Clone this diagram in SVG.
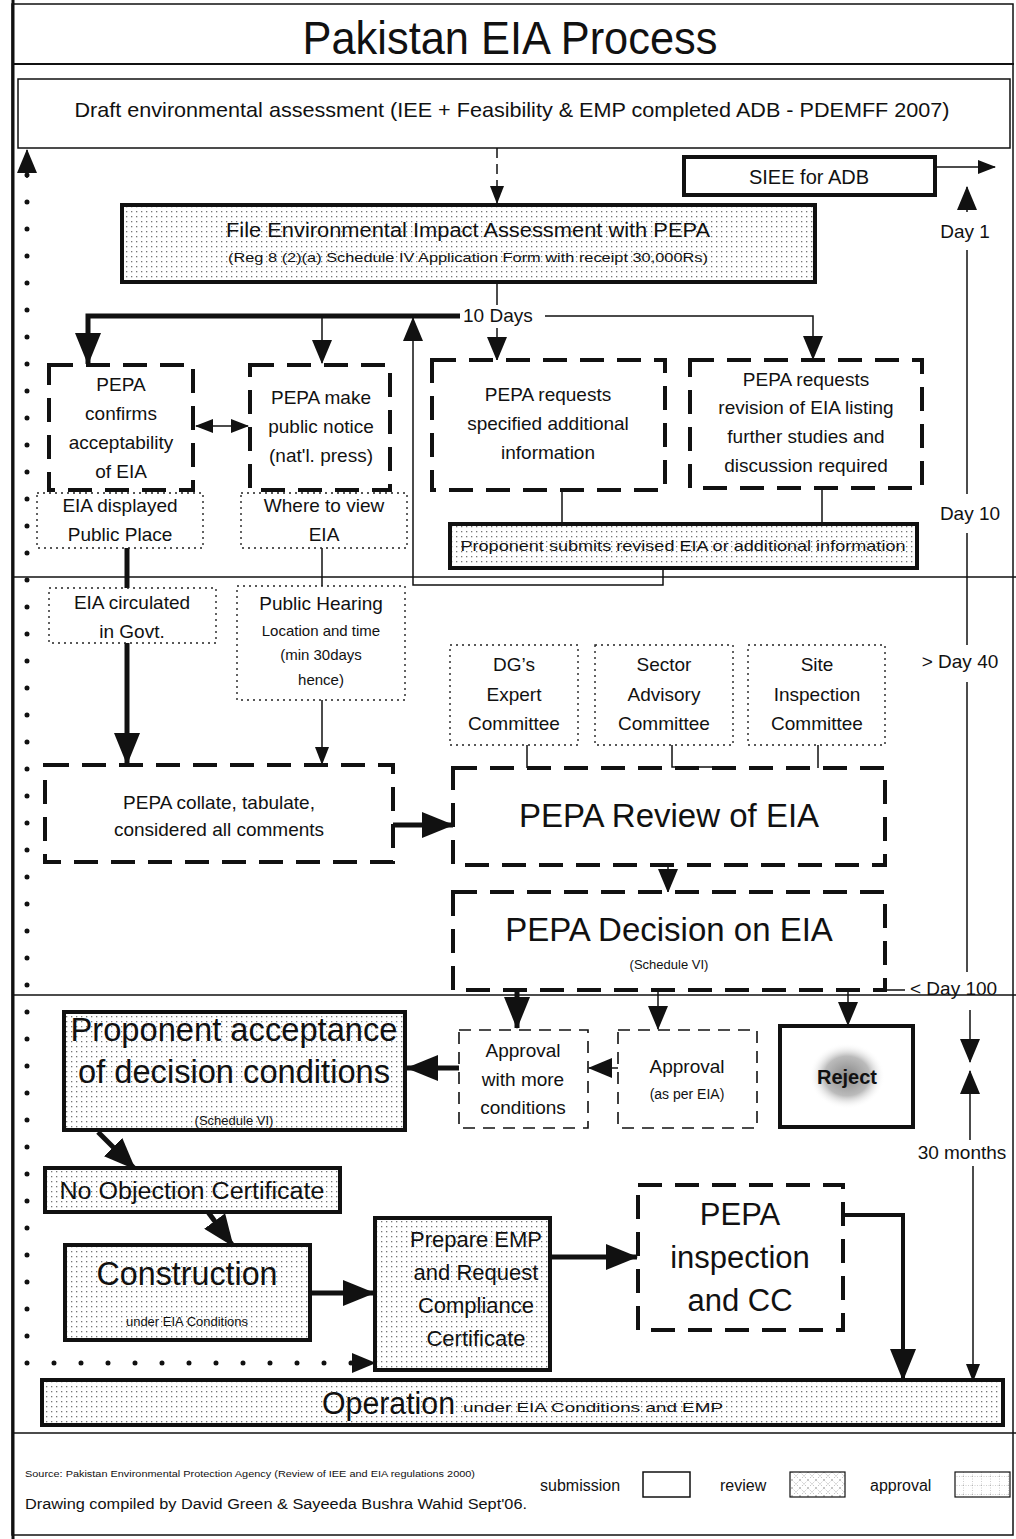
<svg xmlns="http://www.w3.org/2000/svg" width="1016" height="1539" viewBox="0 0 1016 1539">
<style>
text{font-family:"Liberation Sans",Arial,sans-serif;fill:#111}
.c{text-anchor:middle}
.frame{fill:none;stroke:#111;stroke-width:1.5}
.solid{fill:#fff;stroke:#111;stroke-width:1.5}
.thickS{fill:url(#stip);stroke:#111;stroke-width:4}
.thickW{fill:#fff;stroke:#111;stroke-width:4}
.dashT{fill:#fff;stroke:#111;stroke-width:4;stroke-dasharray:24 13}
.dashN{fill:#fff;stroke:#111;stroke-width:1.6;stroke-dasharray:12 8}
.dot{fill:#fff;stroke:#222;stroke-width:1.4;stroke-dasharray:2 4}
.ln{fill:none;stroke:#111;stroke-width:1.5}
.lnT{fill:none;stroke:#111;stroke-width:5}
.lnM{fill:none;stroke:#111;stroke-width:4}
.dsh{fill:none;stroke:#111;stroke-width:1.5;stroke-dasharray:10 6}
.dots{fill:none;stroke:#111;stroke-width:5;stroke-linecap:round;stroke-dasharray:0 27}
</style>
<defs>
<pattern id="stip" width="5" height="5" patternUnits="userSpaceOnUse">
<rect width="5" height="5" fill="#fff"/>
<rect x="1" y="1" width="1.3" height="1.3" fill="#777"/>
</pattern>
<pattern id="hatch" width="8" height="8" patternUnits="userSpaceOnUse">
<rect width="8" height="8" fill="#fff"/>
<path d="M0,0 L8,8 M8,0 L0,8" stroke="#999" stroke-width="0.8" stroke-dasharray="1 1.5"/>
</pattern>
<pattern id="grid" width="9" height="9" patternUnits="userSpaceOnUse">
<rect width="9" height="9" fill="#fff"/>
<path d="M0,0 H9 M0,0 V9" stroke="#888" stroke-width="0.8" stroke-dasharray="1 1.5"/>
</pattern>
<radialGradient id="rej" cx="0.5" cy="0.5" r="0.5">
<stop offset="0" stop-color="#888"/>
<stop offset="0.6" stop-color="#bbb"/>
<stop offset="1" stop-color="#fff" stop-opacity="0"/>
</radialGradient>
<marker id="aS" markerUnits="userSpaceOnUse" markerWidth="18" markerHeight="14" refX="17" refY="7" orient="auto-start-reverse">
<path d="M0,0 L18,7 L0,14 z" fill="#111"/>
</marker>
<marker id="aM" markerUnits="userSpaceOnUse" markerWidth="24" markerHeight="20" refX="23" refY="10" orient="auto-start-reverse">
<path d="M0,0 L24,10 L0,20 z" fill="#111"/>
</marker>
<marker id="aL" markerUnits="userSpaceOnUse" markerWidth="32" markerHeight="26" refX="31" refY="13" orient="auto-start-reverse">
<path d="M0,0 L32,13 L0,26 z" fill="#111"/>
</marker>
</defs>
<rect width="1016" height="1539" fill="#fff"/>

<g id="frame">
<rect x="12" y="4" width="1001" height="1531" class="frame"/>
<line x1="13" y1="0" x2="13" y2="1539" stroke="#111" stroke-width="3"/>
<line x1="12" y1="64" x2="1014" y2="64" stroke="#111" stroke-width="2"/>
<line x1="12" y1="577" x2="1016" y2="577" stroke="#111" stroke-width="1.5"/>
<line x1="12" y1="995" x2="1016" y2="995" stroke="#111" stroke-width="1.5"/>
<line x1="12" y1="1433" x2="1016" y2="1433" stroke="#111" stroke-width="1.5"/>
<text x="510" y="54" class="c" font-size="46" textLength="415" lengthAdjust="spacingAndGlyphs">Pakistan EIA Process</text>
</g>

<g id="connectors">
<path d="M497,148 V203" class="dsh" marker-end="url(#aS)"/>
<path d="M935,167 H995" class="ln" marker-end="url(#aS)"/>
<path d="M497,282 V305" class="ln"/>
<path d="M460,316 H88 V364" class="lnT" marker-end="url(#aL)"/>
<path d="M322,316 V363" class="ln" marker-end="url(#aM)"/>
<path d="M497,328 V360" class="ln" marker-end="url(#aM)"/>
<path d="M545,316 H813 V359" class="ln" marker-end="url(#aM)"/>
<path d="M196,426 H248" class="ln" marker-start="url(#aS)" marker-end="url(#aS)"/>
<path d="M562,490 V524" class="ln"/>
<path d="M822,488 V524" class="ln"/>
<path d="M663,568 V585 H413 V318" class="ln" marker-end="url(#aM)"/>
<path d="M127,548 V588" class="lnT"/>
<path d="M322,548 V586" class="ln"/>
<path d="M127,643 V764" class="lnT" marker-end="url(#aL)"/>
<path d="M322,700 V764" class="ln" marker-end="url(#aS)"/>
<path d="M393,825 H453" class="lnT" marker-end="url(#aL)"/>
<path d="M527,745 V768" class="ln"/>
<path d="M672,745 V767 H712" class="ln"/>
<path d="M818,745 V768" class="ln"/>
<path d="M668,865 V892" class="ln" marker-end="url(#aM)"/>
<path d="M885,990 H905" class="ln"/>
<path d="M517,990 V1028" class="lnT" marker-end="url(#aL)"/>
<path d="M658,990 V1029" class="ln" marker-end="url(#aM)"/>
<path d="M848,990 V1025" class="ln" marker-end="url(#aM)"/>
<path d="M618,1068 H589" class="ln" marker-end="url(#aM)"/>
<path d="M459,1068 H407" class="lnT" marker-end="url(#aL)"/>
<path d="M98,1132 L135,1169" class="lnT" marker-end="url(#aL)"/>
<path d="M208,1212 L233,1246" class="lnT" marker-end="url(#aL)"/>
<path d="M310,1293 H374" class="lnT" marker-end="url(#aL)"/>
<path d="M550,1257 H637" class="lnT" marker-end="url(#aL)"/>
<path d="M843,1215 H903 V1380" class="lnM" marker-end="url(#aL)"/>
<path d="M27,175 V1363 H356" class="dots"/>
<path d="M27,178 V150" class="ln" stroke-width="0" marker-end="url(#aM)"/>
<path d="M350,1363 H375" class="ln" stroke-width="0" marker-end="url(#aM)"/>
<path d="M967,212 V187" class="ln" marker-end="url(#aM)"/>
<path d="M967,250 V494" class="ln"/>
<path d="M967,533 V645" class="ln"/>
<path d="M967,682 V972" class="ln"/>
<path d="M970,1010 V1062" class="ln" marker-end="url(#aM)"/>
<path d="M970,1110 V1071" class="ln" marker-end="url(#aM)"/>
<path d="M970,1110 V1140" class="ln"/>
<path d="M973,1166 V1381" class="ln" marker-end="url(#aS)"/>
</g>

<g id="timeline-labels">
<text x="965" y="238" class="c" font-size="19">Day 1</text>
<text x="970" y="520" class="c" font-size="19">Day 10</text>
<text x="960" y="668" class="c" font-size="19">&gt; Day 40</text>
<text x="910" y="995" font-size="19">&lt; Day 100</text>
<text x="962" y="1159" class="c" font-size="19">30 months</text>
</g>

<g id="draft">
<rect x="18" y="79" width="992" height="69" class="solid"/>
<text x="512" y="117" class="c" font-size="21" textLength="875" lengthAdjust="spacingAndGlyphs">Draft environmental assessment (IEE + Feasibility &amp; EMP completed ADB - PDEMFF 2007)</text>
</g>
<g id="siee">
<rect x="684" y="157" width="251" height="38" class="thickW"/>
<text x="809" y="184" class="c" font-size="20">SIEE for ADB</text>
</g>
<g id="file-eia">
<rect x="122" y="205" width="693" height="77" class="thickS"/>
<text x="468" y="237" class="c" font-size="19.5" textLength="484" lengthAdjust="spacingAndGlyphs">File Environmental Impact Assessment with PEPA</text>
<text x="468" y="262" class="c" font-size="12.5" textLength="480" lengthAdjust="spacingAndGlyphs">(Reg 8 (2)(a) Schedule IV Application Form with receipt 30,000Rs)</text>
</g>
<g id="ten-days">
<text x="463" y="322" font-size="19">10 Days</text>
</g>
<g id="pepa-confirms">
<rect x="49" y="365" width="144" height="125" class="dashT"/>
<text x="121" y="391" class="c" font-size="19">PEPA</text>
<text x="121" y="420" class="c" font-size="19">confirms</text>
<text x="121" y="449" class="c" font-size="19">acceptability</text>
<text x="121" y="478" class="c" font-size="19">of EIA</text>
</g>
<g id="public-notice">
<rect x="250" y="365" width="140" height="125" class="dashT"/>
<text x="321" y="404" class="c" font-size="19">PEPA make</text>
<text x="321" y="433" class="c" font-size="19">public notice</text>
<text x="321" y="462" class="c" font-size="19">(nat'l. press)</text>
</g>
<g id="req-additional">
<rect x="432" y="360" width="233" height="130" class="dashT"/>
<text x="548" y="401" class="c" font-size="19">PEPA requests</text>
<text x="548" y="430" class="c" font-size="19">specified additional</text>
<text x="548" y="459" class="c" font-size="19">information</text>
</g>
<g id="req-revision">
<rect x="690" y="360" width="232" height="128" class="dashT"/>
<text x="806" y="386" class="c" font-size="19">PEPA requests</text>
<text x="806" y="414" class="c" font-size="19">revision of EIA listing</text>
<text x="806" y="443" class="c" font-size="19">further studies and</text>
<text x="806" y="472" class="c" font-size="19">discussion required</text>
</g>
<g id="eia-displayed">
<rect x="37" y="493" width="166" height="55" class="dot"/>
<text x="120" y="512" class="c" font-size="19">EIA displayed</text>
<text x="120" y="541" class="c" font-size="19">Public Place</text>
</g>
<g id="where-view">
<rect x="241" y="493" width="166" height="55" class="dot"/>
<text x="324" y="512" class="c" font-size="19">Where to view</text>
<text x="324" y="541" class="c" font-size="19">EIA</text>
</g>
<g id="proponent-submits">
<rect x="450" y="524" width="467" height="44" class="thickS"/>
<text x="683" y="551" class="c" font-size="14.5" textLength="445" lengthAdjust="spacingAndGlyphs">Proponent submits revised EIA or additional information</text>
</g>
<g id="eia-circulated">
<rect x="49" y="588" width="167" height="55" class="dot"/>
<text x="132" y="609" class="c" font-size="19">EIA circulated</text>
<text x="132" y="638" class="c" font-size="19">in Govt.</text>
</g>
<g id="public-hearing">
<rect x="237" y="586" width="168" height="114" class="dot"/>
<text x="321" y="610" class="c" font-size="19">Public Hearing</text>
<text x="321" y="636" class="c" font-size="15">Location and time</text>
<text x="321" y="660" class="c" font-size="15">(min 30days</text>
<text x="321" y="685" class="c" font-size="15">hence)</text>
</g>
<g id="collate">
<rect x="45" y="765" width="348" height="97" class="dashT"/>
<text x="219" y="809" class="c" font-size="19">PEPA collate, tabulate,</text>
<text x="219" y="836" class="c" font-size="19">considered all comments</text>
</g>
<g id="dg-committee">
<rect x="450" y="645" width="128" height="100" class="dot"/>
<text x="514" y="671" class="c" font-size="19">DG’s</text>
<text x="514" y="701" class="c" font-size="19">Expert</text>
<text x="514" y="730" class="c" font-size="19">Committee</text>
</g>
<g id="sector-committee">
<rect x="595" y="645" width="138" height="100" class="dot"/>
<text x="664" y="671" class="c" font-size="19">Sector</text>
<text x="664" y="701" class="c" font-size="19">Advisory</text>
<text x="664" y="730" class="c" font-size="19">Committee</text>
</g>
<g id="site-committee">
<rect x="748" y="645" width="137" height="100" class="dot"/>
<text x="817" y="671" class="c" font-size="19">Site</text>
<text x="817" y="701" class="c" font-size="19">Inspection</text>
<text x="817" y="730" class="c" font-size="19">Committee</text>
</g>
<g id="review">
<rect x="453" y="768" width="432" height="97" class="dashT"/>
<text x="669" y="827" class="c" font-size="33">PEPA Review of EIA</text>
</g>
<g id="decision">
<rect x="453" y="892" width="432" height="98" class="dashT"/>
<text x="669" y="941" class="c" font-size="33">PEPA Decision on EIA</text>
<text x="669" y="969" class="c" font-size="13">(Schedule VI)</text>
</g>
<g id="approval-more">
<rect x="459" y="1030" width="129" height="98" class="dashN"/>
<text x="523" y="1057" class="c" font-size="19">Approval</text>
<text x="523" y="1086" class="c" font-size="19">with  more</text>
<text x="523" y="1114" class="c" font-size="19">conditions</text>
</g>
<g id="approval">
<rect x="618" y="1030" width="139" height="98" class="dashN"/>
<text x="687" y="1073" class="c" font-size="19">Approval</text>
<text x="687" y="1099" class="c" font-size="14">(as per EIA)</text>
</g>
<g id="reject">
<rect x="780" y="1026" width="133" height="101" class="thickW"/>
<ellipse cx="847" cy="1076" rx="38" ry="33" fill="url(#rej)"/>
<text x="847" y="1084" class="c" font-size="20" font-weight="bold">Reject</text>
</g>
<g id="proponent-acceptance">
<rect x="64" y="1012" width="341" height="118" class="thickS"/>
<text x="234" y="1041" class="c" font-size="33" textLength="327" lengthAdjust="spacingAndGlyphs">Proponent acceptance</text>
<text x="234" y="1083" class="c" font-size="33" textLength="312" lengthAdjust="spacingAndGlyphs">of decision conditions</text>
<text x="234" y="1125" class="c" font-size="13">(Schedule VI)</text>
</g>
<g id="noc">
<rect x="45" y="1168" width="295" height="44" class="thickS"/>
<text x="192" y="1199" class="c" font-size="23" textLength="265" lengthAdjust="spacingAndGlyphs">No Objection Certificate</text>
</g>
<g id="construction">
<rect x="65" y="1245" width="245" height="95" class="thickS"/>
<text x="187" y="1285" class="c" font-size="33" textLength="181" lengthAdjust="spacingAndGlyphs">Construction</text>
<text x="187" y="1326" class="c" font-size="13">under EIA Conditions</text>
</g>
<g id="prepare-emp">
<rect x="375" y="1218" width="175" height="152" class="thickS"/>
<text x="476" y="1247" class="c" font-size="22">Prepare EMP</text>
<text x="476" y="1280" class="c" font-size="22">and Request</text>
<text x="476" y="1313" class="c" font-size="22">Compliance</text>
<text x="476" y="1346" class="c" font-size="22">Certificate</text>
</g>
<g id="inspection">
<rect x="638" y="1185" width="205" height="145" class="dashT"/>
<text x="740" y="1225" class="c" font-size="31">PEPA</text>
<text x="740" y="1268" class="c" font-size="31">inspection</text>
<text x="740" y="1311" class="c" font-size="31">and CC</text>
</g>
<g id="operation">
<rect x="42" y="1380" width="961" height="45" class="thickS"/>
<text x="322" y="1414" font-size="31" textLength="133" lengthAdjust="spacingAndGlyphs">Operation</text>
<text x="463" y="1412" font-size="13.5" textLength="260" lengthAdjust="spacingAndGlyphs">under EIA Conditions and EMP</text>
</g>

<g id="footer">
<text x="25" y="1477" font-size="8.5" textLength="450" lengthAdjust="spacingAndGlyphs">Source: Pakistan Environmental Protection Agency (Review of IEE and EIA regulations 2000)</text>
<text x="25" y="1509" font-size="14" textLength="502" lengthAdjust="spacingAndGlyphs">Drawing compiled by David Green &amp; Sayeeda Bushra Wahid Sept'06.</text>
<text x="540" y="1491" font-size="16">submission</text>
<rect x="643" y="1472" width="47" height="25" class="solid"/>
<text x="720" y="1491" font-size="16">review</text>
<rect x="790" y="1472" width="55" height="25" fill="url(#hatch)" stroke="#111" stroke-width="1.2"/>
<text x="870" y="1491" font-size="16">approval</text>
<rect x="955" y="1472" width="55" height="25" fill="url(#grid)" stroke="#111" stroke-width="1.2"/>
</g>
</svg>
